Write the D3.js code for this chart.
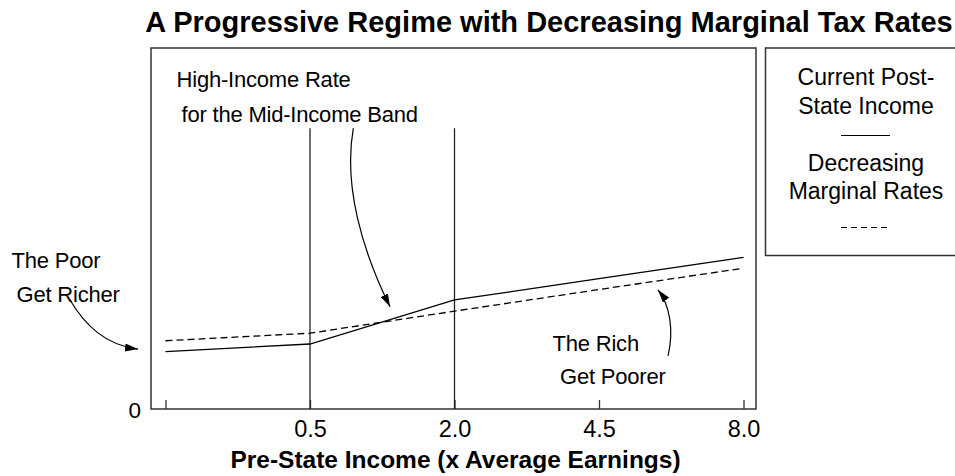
<!DOCTYPE html>
<html>
<head>
<meta charset="utf-8">
<script src="https://cdn.jsdelivr.net/npm/d3@7"></script>
<style>
  body { margin: 0; background: #fff; }
  text { font-family: "Liberation Sans", Arial, sans-serif; fill: #000; }
</style>
</head>
<body>
<script>
// data
const categories = ["0", "0.5", "2.0", "4.5", "8.0"];
const currentIncome = [0.159, 0.180, 0.302, 0.361, 0.420];
const decreasingRates = [0.189, 0.210, 0.271, 0.331, 0.390];
const bandEdges = ["0.5", "2.0"];
const bandTop = 0.778;
const yTicks = [0];

const titleText = "A Progressive Regime with Decreasing Marginal Tax Rates";
const xLabelText = "Pre-State Income (x Average Earnings)";
const legendCurrent = ["Current Post-", "State Income"];
const legendDecreasing = ["Decreasing", "Marginal Rates"];

// margins
var margin = {top: 48, right: 199, bottom: 67, left: 151};
var fullW = 955, fullH = 476;
var width = fullW - margin.left - margin.right,
    height = fullH - margin.top - margin.bottom;

var svg = d3.select("body").append("svg")
    .attr("width", fullW)
    .attr("height", fullH);

var plot = svg.append("g")
    .attr("transform", "translate(" + margin.left + "," + margin.top + ")");

// scales
var xScale = d3.scalePoint()
    .domain(categories)
    .range([14.5, width - 12.5]);

// index scale for placing annotations between categories
var xIdx = d3.scaleLinear()
    .domain([0, categories.length - 1])
    .range([xScale(categories[0]), xScale(categories[categories.length - 1])]);

var yScale = d3.scaleLinear()
    .domain([0, 1])
    .range([height, 0]);

// title
svg.append("text")
    .attr("x", 549)
    .attr("y", 31.5)
    .attr("text-anchor", "middle")
    .style("font-size", "29px")
    .style("font-weight", "bold")
    .text(titleText);

// plot frame
plot.append("rect")
    .attr("x", 0)
    .attr("y", 0)
    .attr("width", width)
    .attr("height", height)
    .style("fill", "none")
    .style("stroke", "#333")
    .style("stroke-width", 1.5);

// x axis, ticks pointing inward
var xAxis = plot.append("g")
    .attr("transform", "translate(0," + height + ")")
    .call(d3.axisBottom(xScale)
        .tickSizeInner(-9)
        .tickSizeOuter(0)
        .tickFormat(function(d) { return d === "0" ? "" : d; }));
xAxis.select(".domain").remove();
xAxis.selectAll(".tick line").style("stroke", "#333").style("stroke-width", 1.3);
xAxis.selectAll(".tick text")
    .attr("y", 28)
    .attr("dy", 0)
    .style("font-size", "23.5px")
    .style("font-family", "'Liberation Sans', Arial, sans-serif");

// y axis, only the zero label
var yAxis = plot.append("g")
    .call(d3.axisLeft(yScale)
        .tickValues(yTicks)
        .tickSize(0)
        .tickPadding(10)
        .tickFormat(d3.format("d")));
yAxis.select(".domain").remove();
yAxis.selectAll(".tick text")
    .attr("dy", "0.38em")
    .style("font-size", "22.5px")
    .style("font-family", "'Liberation Sans', Arial, sans-serif");

// x axis label
svg.append("text")
    .attr("x", margin.left + width / 2 + 2)
    .attr("y", 468)
    .attr("text-anchor", "middle")
    .style("font-size", "24.5px")
    .style("font-weight", "bold")
    .text(xLabelText);

// band edges
plot.selectAll(".band-edge")
    .data(bandEdges)
    .enter()
    .append("line")
    .attr("class", "band-edge")
    .attr("x1", function(d) { return xScale(d); })
    .attr("x2", function(d) { return xScale(d); })
    .attr("y1", yScale(bandTop))
    .attr("y2", height)
    .style("stroke", "#222")
    .style("stroke-width", 1.3);

// lines
var line = d3.line()
    .x(function(d, i) { return xScale(categories[i]); })
    .y(function(d) { return yScale(d); });

plot.append("path")
    .datum(currentIncome)
    .attr("d", line)
    .style("fill", "none")
    .style("stroke", "#000")
    .style("stroke-width", 1.3);

plot.append("path")
    .datum(decreasingRates)
    .attr("d", line)
    .style("fill", "none")
    .style("stroke", "#000")
    .style("stroke-width", 1.3)
    .style("stroke-dasharray", "7,4");

// arrow head marker
svg.append("defs").append("marker")
    .attr("id", "arrow")
    .attr("viewBox", "0 0 13 8")
    .attr("refX", 13)
    .attr("refY", 4)
    .attr("markerWidth", 13)
    .attr("markerHeight", 8)
    .attr("markerUnits", "userSpaceOnUse")
    .attr("orient", "auto")
    .append("path")
    .attr("d", "M0,0 L13,4 L0,8 Z")
    .style("fill", "#000");

// annotation arrows, points as [category index, value]
const arrowMid = [[1.300, 0.778], [1.230, 0.620], [1.360, 0.440], [1.554, 0.283]];
const arrowPoor = [[-0.661, 0.302], [-0.557, 0.233], [-0.419, 0.177], [-0.190, 0.166]];
const arrowRich = [[3.478, 0.147], [3.519, 0.219], [3.491, 0.288], [3.408, 0.330]];

function curvePath(pts) {
    var p = pts.map(function(d) { return [xIdx(d[0]), yScale(d[1])]; });
    return "M" + p[0] + "C" + p[1] + " " + p[2] + " " + p[3];
}

[arrowMid, arrowPoor, arrowRich].forEach(function(pts) {
    plot.append("path")
        .attr("d", curvePath(pts))
        .style("fill", "none")
        .style("stroke", "#000")
        .style("stroke-width", 1.2)
        .attr("marker-end", "url(#arrow)");
});

// annotation texts
var notes = [
    {t: "High-Income Rate", x: 176.5, y: 86.5},
    {t: "for the Mid-Income Band", x: 181.5, y: 121.5},
    {t: "The Poor", x: 11.5, y: 267.5},
    {t: "Get Richer", x: 16.5, y: 301.5},
    {t: "The Rich", x: 552.5, y: 351},
    {t: "Get Poorer", x: 560, y: 383.5}
];
svg.selectAll(".note")
    .data(notes)
    .enter()
    .append("text")
    .attr("class", "note")
    .attr("x", function(d) { return d.x; })
    .attr("y", function(d) { return d.y; })
    .style("font-size", "22px")
    .style("letter-spacing", "-0.2px")
    .text(function(d) { return d.t; });

// legend box
var legend = svg.append("g");
legend.append("rect")
    .attr("x", 765.5)
    .attr("y", 48)
    .attr("width", 200)
    .attr("height", 207.5)
    .style("fill", "none")
    .style("stroke", "#333")
    .style("stroke-width", 1.5);

var legCx = 866;
legend.selectAll(".leg-a")
    .data(legendCurrent)
    .enter()
    .append("text")
    .attr("x", legCx)
    .attr("y", function(d, i) { return 85 + i * 29; })
    .attr("text-anchor", "middle")
    .style("font-size", "23px")
    .text(function(d) { return d; });

legend.append("line")
    .attr("x1", 841).attr("x2", 890)
    .attr("y1", 135.5).attr("y2", 135.5)
    .style("stroke", "#000")
    .style("stroke-width", 1.2);

legend.selectAll(".leg-b")
    .data(legendDecreasing)
    .enter()
    .append("text")
    .attr("x", legCx)
    .attr("y", function(d, i) { return 171 + i * 28; })
    .attr("text-anchor", "middle")
    .style("font-size", "23px")
    .text(function(d) { return d; });

legend.append("line")
    .attr("x1", 841).attr("x2", 890)
    .attr("y1", 227.5).attr("y2", 227.5)
    .style("stroke", "#000")
    .style("stroke-width", 1.2)
    .style("stroke-dasharray", "6,4");
</script>
</body>
</html>
